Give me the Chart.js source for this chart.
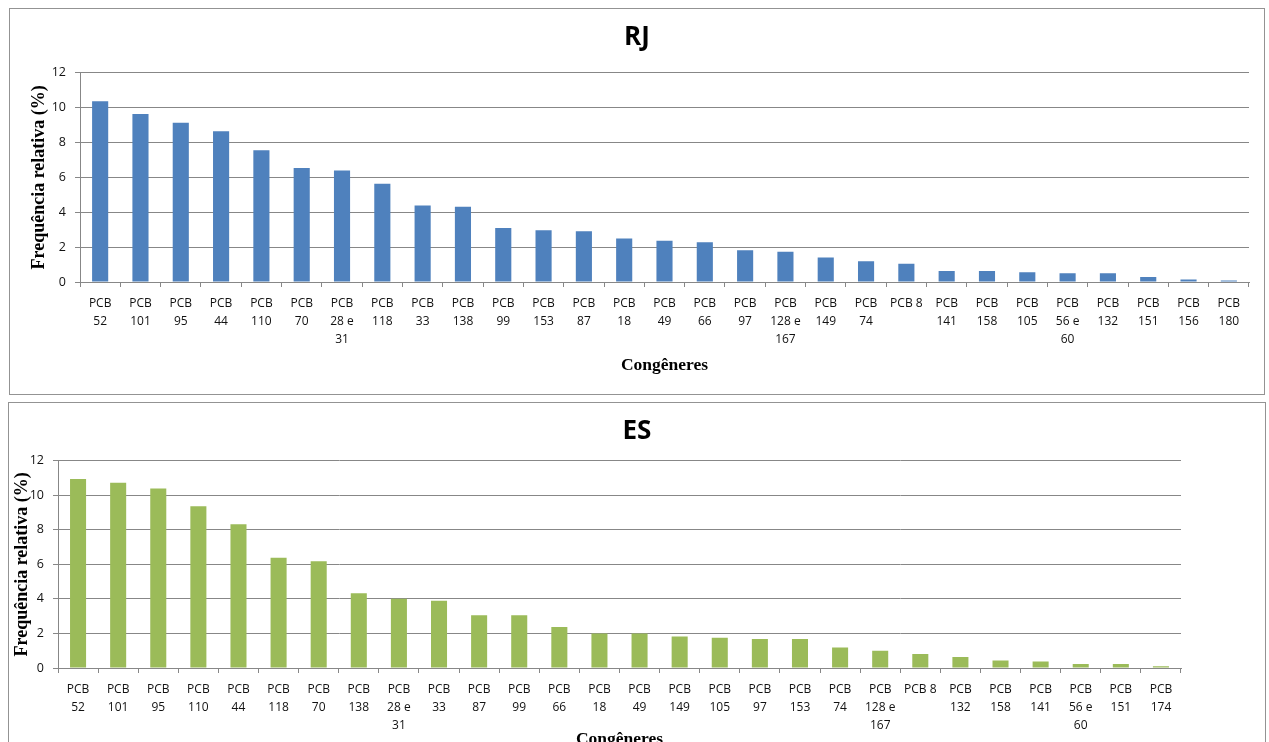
<!DOCTYPE html>
<html>
<head>
<meta charset="utf-8">
<script src="https://cdn.jsdelivr.net/npm/chart.js@4/dist/chart.umd.min.js"></script>
<style>
  html, body { margin: 0; padding: 0; background: #fff; width: 1269px; height: 742px; overflow: hidden; }
  .panel { position: absolute; }
  .frame { position: absolute; border: 1px solid #939393; box-sizing: border-box; pointer-events: none; }
  canvas { display: block; }
</style>
</head>
<body>
<div class="panel" style="left:9px;top:8px;"><canvas id="rj" width="1256" height="387" style="width:1256px;height:387px"></canvas></div>
<div class="frame" style="left:9px;top:8px;width:1256px;height:387px"></div>
<div class="panel" style="left:8px;top:402px;"><canvas id="es" width="1258" height="360" style="width:1258px;height:360px"></canvas></div>
<div class="frame" style="left:8px;top:402px;width:1258px;height:400px"></div>

<script>
// Congeners, ordered by relative frequency (%)
const rjCongeners = ["PCB 52", "PCB 101", "PCB 95", "PCB 44", "PCB 110", "PCB 70", "PCB 28 e 31", "PCB 118", "PCB 33", "PCB 138",
  "PCB 99", "PCB 153", "PCB 87", "PCB 18", "PCB 49", "PCB 66", "PCB 97", "PCB 128 e 167", "PCB 149", "PCB 74",
  "PCB 8", "PCB 141", "PCB 158", "PCB 105", "PCB 56 e 60", "PCB 132", "PCB 151", "PCB 156", "PCB 180"];
const rjFrequency = [10.37, 9.63, 9.13, 8.65, 7.56, 6.53, 6.39, 5.64, 4.38, 4.32,
  3.10, 2.97, 2.91, 2.49, 2.37, 2.28, 1.82, 1.74, 1.40, 1.19,
  1.05, 0.63, 0.63, 0.56, 0.50, 0.50, 0.29, 0.15, 0.08];

const esCongeners = ["PCB 52", "PCB 101", "PCB 95", "PCB 110", "PCB 44", "PCB 118", "PCB 70", "PCB 138", "PCB 28 e 31", "PCB 33",
  "PCB 87", "PCB 99", "PCB 66", "PCB 18", "PCB 49", "PCB 149", "PCB 105", "PCB 97", "PCB 153", "PCB 74",
  "PCB 128 e 167", "PCB 8", "PCB 132", "PCB 158", "PCB 141", "PCB 56 e 60", "PCB 151", "PCB 174"];
const esFrequency = [10.94, 10.73, 10.39, 9.36, 8.32, 6.38, 6.18, 4.32, 4.01, 3.89,
  3.06, 3.06, 2.37, 2.00, 2.00, 1.83, 1.75, 1.68, 1.68, 1.19,
  1.00, 0.81, 0.64, 0.44, 0.37, 0.23, 0.23, 0.10];

const yTicks = [0, 2, 4, 6, 8, 10, 12];
const yAxisTitle = "Frequência relativa (%)";
const xAxisTitle = "Congêneres";

const gridGray = "#878787";

// Break a congener name into the wrapped lines shown under each bar
function wrapLabel(name) {
  if (name.length <= 5) return [name];
  const rest = name.slice(4);
  const parts = rest.split(" e ");
  if (parts.length === 2) return ["PCB", parts[0] + " e", parts[1]];
  return ["PCB", rest];
}

function makeChart(id, cats, vals, color, cfg) {
  return new Chart(document.getElementById(id), {
    type: "bar",
    data: {
      labels: cats,
      datasets: [{ data: vals, backgroundColor: color, barPercentage: 0.4, categoryPercentage: 1, yAxisID: "y" }]
    },
    options: {
      responsive: false,
      animation: false,
      layout: { padding: 0 },
      plugins: {
        legend: { display: false },
        tooltip: { enabled: false },
        title: {
          display: true, text: cfg.title, color: "#000",
          font: { family: "Open Sans", size: 26, weight: "bold", lineHeight: 1.2 },
          padding: { top: cfg.titleTop, bottom: cfg.titleBottom }
        }
      },
      scales: {
        x: {
          ticks: {
            autoSkip: false, maxRotation: 0, minRotation: 0, padding: 8, color: "#111",
            font: { family: "Open Sans", size: 12, lineHeight: 1.5 },
            callback: (v, i) => wrapLabel(cats[i])
          },
          grid: { drawOnChartArea: false, drawTicks: true, tickLength: 5, color: gridGray, offset: true },
          border: { color: gridGray },
          title: {
            display: true, text: xAxisTitle, color: "#000",
            font: { family: "Liberation Serif", size: 17.5, weight: "bold", lineHeight: 1.2 },
            padding: { top: 0, bottom: cfg.xTitleBottom }
          },
          afterFit: (s) => { s.height = cfg.xHeight; }
        },
        y: {
          min: 0, max: 12,
          afterBuildTicks: (s) => { s.ticks = yTicks.map(v => ({ value: v })); },
          ticks: { padding: 9, color: "#111", font: { family: "Open Sans", size: 12.5 } },
          grid: { color: gridGray, drawTicks: true, tickLength: 5 },
          border: { color: gridGray },
          title: {
            display: true, text: yAxisTitle, color: "#000",
            font: { family: "Liberation Serif", size: 18, weight: "bold", lineHeight: 1.2 },
            padding: { top: cfg.yTitleLeft, bottom: 0 }
          },
          afterFit: (s) => { s.width = cfg.yWidth; }
        },
        // empty right-hand margin so the title stays centred on the whole panel
        margin: {
          position: "right", min: 0, max: 12,
          ticks: { display: false }, grid: { display: false }, border: { display: false },
          afterFit: (s) => { s.width = cfg.padRight; }
        }
      }
    }
  });
}

makeChart("rj", rjCongeners, rjFrequency, "#4F81BD", {
  title: "RJ", padRight: 16, titleTop: 14, titleBottom: 19.5,
  xHeight: 113, xTitleBottom: 19.5, yWidth: 71, yTitleLeft: 20
});

makeChart("es", esCongeners, esFrequency, "#9BBB59", {
  title: "ES", padRight: 85, titleTop: 13.6, titleBottom: 13.9,
  xHeight: 94, xTitleBottom: 12.5, yWidth: 50, yTitleLeft: 3.7
});
</script>
</body>
</html>
